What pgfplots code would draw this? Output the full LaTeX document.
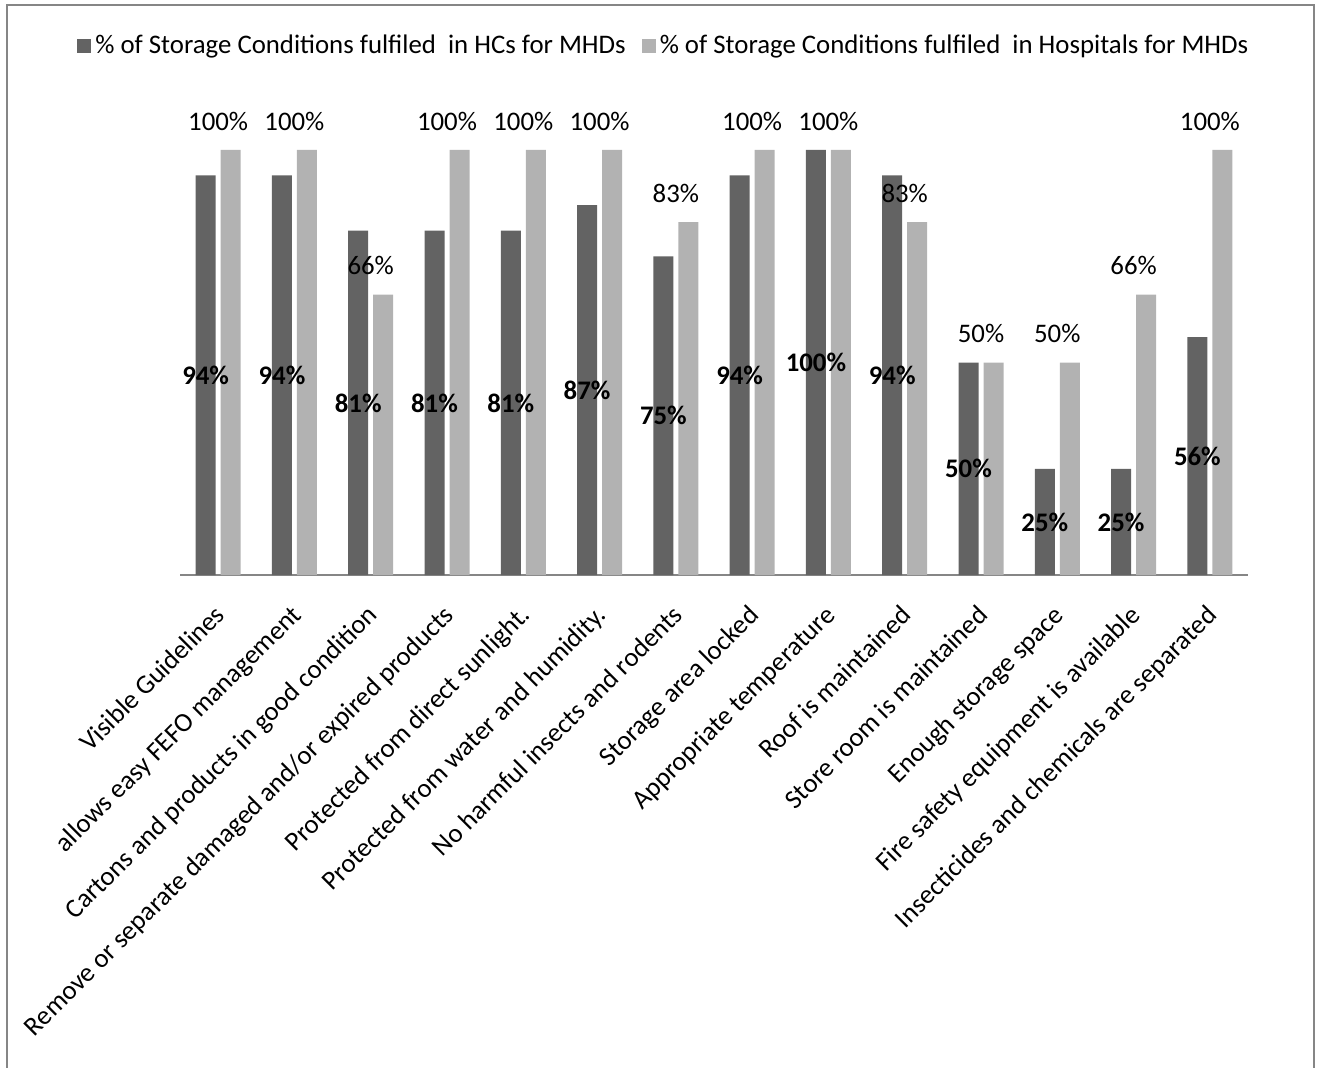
\documentclass[border=0pt]{standalone}
\usepackage{fontspec}
\setmainfont{Carlito}
\usepackage{pgfplots}
\usepackage{pgfplotstable}
\pgfplotsset{compat=1.18}
\definecolor{darkbar}{RGB}{99,99,99}
\definecolor{lightbar}{RGB}{178,178,178}
\definecolor{framegray}{RGB}{134,134,134}
\newcommand\cf{\fontsize{13.4}{16}\selectfont}
\pgfplotstableread{
x hc hosp
0 94 100
1 94 100
2 81 66
3 81 100
4 81 100
5 87 100
6 75 83
7 94 100
8 100 100
9 94 83
10 50 50
11 25 50
12 25 66
13 56 100
}\data
\begin{document}
\begin{tikzpicture}
\begin{axis}[
  at={(90pt,-287.5pt)}, anchor=south west,
  scale only axis, width=534pt, height=212.5pt,
  xmin=-0.5, xmax=13.5, ymin=0, ymax=100,
  clip=false,
  axis y line=none,
  axis x line*=bottom,
  x axis line style={-, draw=framegray, line width=1pt},
  xtick={0,...,13},
  major tick length=0pt,
  xtick style={draw=none},
  xticklabels={Visible Guidelines, allows easy FEFO management, Cartons and products in good condition, Remove or separate damaged and/or expired products, Protected from direct sunlight., Protected from water and humidity., No harmful insects and rodents, Storage area locked, Appropriate temperature, Roof is maintained, Store room is maintained, Enough storage space, Fire safety equipment is available, Insecticides and chemicals are separated},
  xticklabel style={font=\cf, inner sep=0pt, yshift=-14pt, xshift=-2.5pt, rotate=45, anchor=north east},
  /pgf/number format/assume math mode=true,
  legend style={at={(axis description cs:0.454,1.245)}, anchor=center, draw=none, fill=none, font=\cf,
     legend columns=2, /tikz/every even column/.append style={column sep=6pt}},
  legend image code/.code={\fill[#1] (0pt,-3.5pt) rectangle (7pt,3.5pt);},
]
\addplot[ybar, bar width=10pt, bar shift=-6.25pt, fill=darkbar, draw=none] table[x=x,y=hc]{\data};
\addlegendentry{\% of Storage Conditions fulfiled\ \ in HCs for MHDs}
\addplot[ybar, bar width=10pt, bar shift=6.25pt, fill=lightbar, draw=none,
  nodes near coords={\pgfmathprintnumber{\pgfplotspointmeta}\%},
  nodes near coords style={font=\cf, inner sep=0pt, yshift=9.5pt, text=black}] table[x=x,y=hosp]{\data};
\addlegendentry{\% of Storage Conditions fulfiled\ \ in Hospitals for MHDs}
\addplot[forget plot, draw=none, mark=none, y filter/.expression={y/2}, point meta=rawy,
  nodes near coords={\pgfmathprintnumber{\pgfplotspointmeta}\%},
  nodes near coords align=center,
  nodes near coords style={font=\cf\bfseries, inner sep=0pt, xshift=-6.25pt, text=black}] table[x=x,y=hc]{\data};
\end{axis}
\draw[framegray, line width=1pt] (3.5pt,-2.5pt) rectangle (657pt,-600pt);
\pgfresetboundingbox
\useasboundingbox (0,0) rectangle (658.5pt,-534pt);
\end{tikzpicture}
\end{document}
